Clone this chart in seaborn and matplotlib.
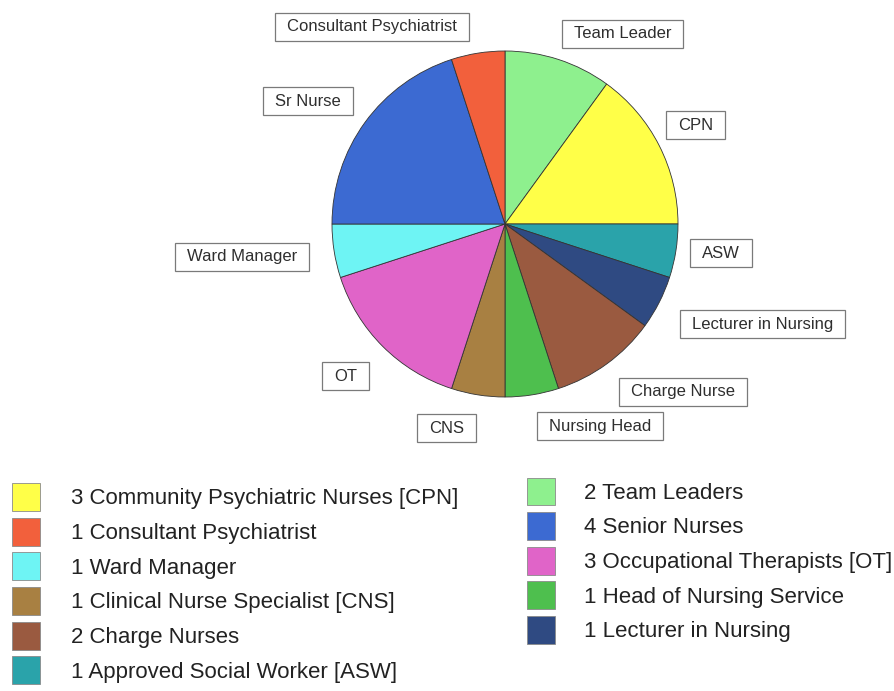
"""
Pie chart of the staff groups in the sample, with boxed slice labels
and a two column legend underneath.
"""
import matplotlib
matplotlib.use("Agg")
import matplotlib.pyplot as plt
import matplotlib.patches as mpatches
import seaborn as sns

# slice order, clockwise from 12 o'clock
slice_labels = ["Team Leader", "CPN", "ASW", "Lecturer in Nursing", "Charge Nurse",
                "Nursing Head", "CNS", "OT", "Ward Manager", "Sr Nurse",
                "Consultant Psychiatrist"]
slice_counts = [2, 3, 1, 1, 2, 1, 1, 3, 1, 4, 1]
slice_colors = ["#8ef08e", "#ffff48", "#2aa3aa", "#2f4a82", "#9a5a40",
                "#4ebf4e", "#a88042", "#e064c8", "#6ef4f4", "#3c6ad2",
                "#f2603c"]

# legend text, in the order it is printed (left column then right column)
legend_left = ["3 Community Psychiatric Nurses [CPN]", "1 Consultant Psychiatrist",
               "1 Ward Manager", "1 Clinical Nurse Specialist [CNS]",
               "2 Charge Nurses", "1 Approved Social Worker [ASW]"]
legend_left_keys = ["CPN", "Consultant Psychiatrist", "Ward Manager", "CNS",
                    "Charge Nurse", "ASW"]
legend_right = ["2 Team Leaders", "4 Senior Nurses", "3 Occupational Therapists [OT]",
                "1 Head of Nursing Service", "1 Lecturer in Nursing"]
legend_right_keys = ["Team Leader", "Sr Nurse", "OT", "Nursing Head",
                     "Lecturer in Nursing"]

# where each boxed label sits, in pie radius units from the centre
label_xy = {
    "Consultant Psychiatrist": (-0.77, 1.14),
    "Team Leader": (0.68, 1.10),
    "Sr Nurse": (-1.14, 0.71),
    "CPN": (1.10, 0.57),
    "Ward Manager": (-1.52, -0.19),
    "ASW": (1.25, -0.17),
    "Lecturer in Nursing": (1.49, -0.58),
    "Charge Nurse": (1.03, -0.97),
    "Nursing Head": (0.55, -1.17),
    "CNS": (-0.34, -1.18),
    "OT": (-0.92, -0.88),
}

sns.set_theme(style="white")
plt.rcParams["font.family"] = ["Liberation Sans", "DejaVu Sans"]

W, H = 894, 691
cx, cy, R = 505, 224, 173  # pie centre and radius in pixels

fig = plt.figure(figsize=(W / 100, H / 100), dpi=100)
ax = fig.add_axes([0, 0, 1, 1])

ax.pie(slice_counts, colors=slice_colors, startangle=90, counterclock=False,
       wedgeprops=dict(edgecolor="#333333", linewidth=0.6))
ax.set_xlim(-cx / R, (W - cx) / R)
ax.set_ylim(-(H - cy) / R, cy / R)
ax.set_aspect("auto")
ax.axis("off")

texts = []
for name in slice_labels:
    x, y = label_xy[name]
    t = ax.text(x, y, name, ha="center", va="center", fontsize=12,
                color="#2e2e2e", zorder=4)
    texts.append(t)

# boxes round the labels: wider padding left/right than top/bottom
fig.canvas.draw()
renderer = fig.canvas.get_renderer()
inv = ax.transData.inverted()
for t in texts:
    bb = t.get_window_extent(renderer)
    mid = (bb.y0 + bb.y1) / 2
    (x0, y0), (x1, y1) = inv.transform([(bb.x0 - 12, mid - 14), (bb.x1 + 12, mid + 14)])
    ax.add_patch(mpatches.Rectangle((x0, y0), x1 - x0, y1 - y0, facecolor="white",
                                    edgecolor="#7a7a7a", linewidth=0.9, zorder=3))

color_of = dict(zip(slice_labels, slice_colors))


def make_handles(keys):
    return [mpatches.Patch(facecolor=color_of[k], edgecolor="#8a8a8a", linewidth=0.6)
            for k in keys]


legend_style = dict(frameon=False, fontsize=16, handlelength=1.26, handleheight=1.56,
                    handletextpad=1.4, labelspacing=0.3, borderpad=0,
                    borderaxespad=0, labelcolor="#222222", loc="upper left")

fig.legend(make_handles(legend_left_keys), legend_left,
           bbox_to_anchor=(12 / W, 1 - 483 / H), **legend_style)
fig.legend(make_handles(legend_right_keys), legend_right,
           bbox_to_anchor=(527 / W, 1 - 477.5 / H),
           **{**legend_style, "handletextpad": 1.3})

plt.savefig("out.png", dpi=100)
